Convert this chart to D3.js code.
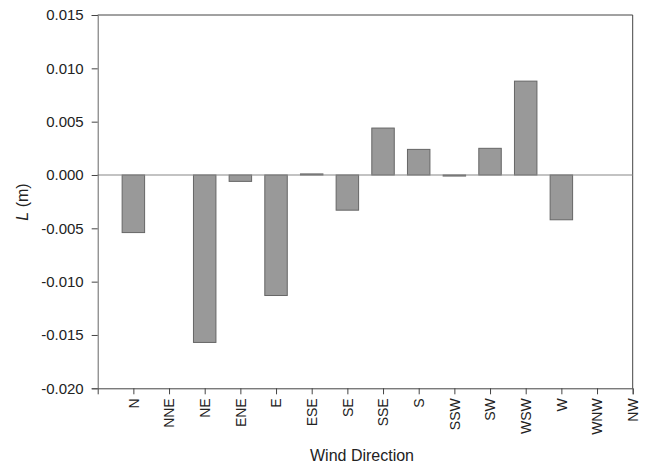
<!DOCTYPE html>
<html>
<head>
<meta charset="utf-8">
<script src="https://cdn.jsdelivr.net/npm/d3@7"></script>
<style>
  body { margin: 0; background: #fff; }
  svg text { font-family: "Liberation Sans", Arial, sans-serif; fill: #222; }
</style>
</head>
<body>
<div id="chart"></div>
<script>
var directions = ["N", "NNE", "NE", "ENE", "E", "ESE", "SE", "SSE", "S", "SSW", "SW", "WSW", "W", "WNW", "NW"];
var lValues = [-0.0054, 0, -0.0157, -0.0006, -0.0113, 0.0001, -0.0033, 0.0044, 0.0024, -0.0001, 0.0025, 0.0088, -0.0042, 0, 0];
var yTicks = [0.015, 0.010, 0.005, 0.000, -0.005, -0.010, -0.015, -0.020];

var width = 646,
    height = 466;
var margin = {top: 15, right: 13.3, bottom: 77.7, left: 97.7};

var svg = d3.select("#chart").append("svg")
    .attr("width", width)
    .attr("height", height);

// directions sit at 1..15, leaving one slot of room on the left
var x = d3.scaleLinear()
    .domain([0, directions.length])
    .range([margin.left, width - margin.right]);

var y = d3.scaleLinear()
    .domain([-0.020, 0.015])
    .range([height - margin.bottom, margin.top]);

var barW = (x(1) - x(0)) * 0.63;

// frame (top + right)
svg.append("path")
    .attr("d", "M" + margin.left + "," + y(0.015) + "H" + x(directions.length) + "V" + y(-0.020))
    .attr("fill", "none")
    .attr("stroke", "#444")
    .attr("stroke-width", 1);

// bars
svg.append("g").selectAll("rect").data(lValues).enter().append("rect")
    .attr("x", function(d, i){ return x(i + 1) - barW / 2; })
    .attr("y", function(d){ return y(Math.max(0, d)); })
    .attr("width", barW)
    .attr("height", function(d){ return Math.abs(y(d) - y(0)); })
    .attr("fill", "#999")
    .attr("stroke", function(d){ return d == 0 ? "none" : "#666"; })
    .attr("stroke-width", 1);

// zero line
svg.append("line")
    .attr("x1", margin.left)
    .attr("x2", x(directions.length))
    .attr("y1", y(0))
    .attr("y2", y(0))
    .attr("stroke", "#888")
    .attr("stroke-width", 1.2);

// y axis
var yAxis = svg.append("g")
    .attr("transform", "translate(" + margin.left + ",0)")
    .call(d3.axisLeft(y).tickValues(yTicks).tickFormat(d3.format(".3f")).tickSizeOuter(0).tickSize(6).tickPadding(8));
yAxis.select(".domain").attr("stroke", "#666");
yAxis.selectAll(".tick line").attr("stroke", "#444");
yAxis.selectAll("text")
    .style("font-size", "15px")
    .text(function(d){ return d3.format(".3f")(d).replace("−", "-"); });

// x axis
var xAxis = svg.append("g")
    .attr("transform", "translate(0," + y(-0.020) + ")")
    .call(d3.axisBottom(x).tickValues(d3.range(1, directions.length + 1))
        .tickFormat(function(d){ return directions[d - 1]; })
        .tickSizeOuter(0).tickSize(6));
xAxis.select(".domain").attr("stroke", "#444");
xAxis.selectAll(".tick line").attr("stroke", "#444");
xAxis.selectAll("text")
    .style("font-size", "14px")
    .attr("text-anchor", "end")
    .attr("transform", "rotate(-90)")
    .attr("x", -10)
    .attr("y", 0)
    .attr("dy", "0.35em");

// axis titles
svg.append("text")
    .attr("x", 362)
    .attr("y", 461)
    .attr("text-anchor", "middle")
    .style("font-size", "16px")
    .text("Wind Direction");

var yTitle = svg.append("text")
    .attr("transform", "translate(28," + 202 + ") rotate(-90)")
    .attr("text-anchor", "middle")
    .style("font-size", "16px");
yTitle.append("tspan").style("font-style", "italic").text("L");
yTitle.append("tspan").text(" (m)");
</script>
</body>
</html>
